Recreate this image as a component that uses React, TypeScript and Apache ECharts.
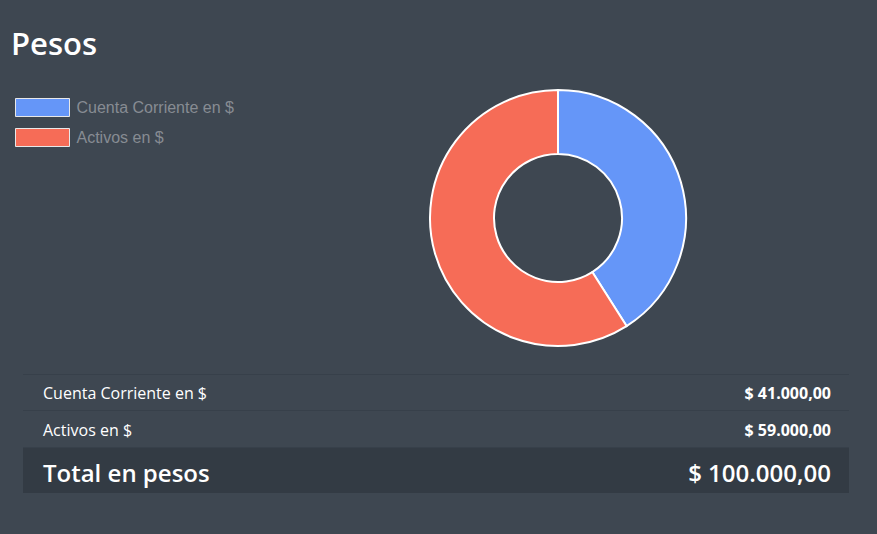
import React, { useEffect, useRef } from "react";
import * as echarts from "echarts";

const categories = ["Cuenta Corriente en $", "Activos en $"];
const values = [41000, 59000];
const colors = ["#6596f8", "#f66c57"];
const totalLabel = "Total en pesos";
const titleText = "Pesos";

function fmt(v: number): string {
  const parts = v.toFixed(2).split(".");
  const intPart = parts[0].replace(/\B(?=(\d{3})+(?!\d))/g, ".");
  return "$ " + intPart + "," + parts[1];
}

export default function App() {
  const ref = useRef<HTMLDivElement>(null);
  useEffect(() => {
    document.body.style.margin = "0";
    const chart = echarts.init(ref.current!, undefined, { renderer: "svg" });
    const total = values.reduce((a, b) => a + b, 0);
    const font = '"Open Sans", sans-serif';
    const L = 23, R = 849, tx = 43, vx = 831;
    const graphic: any[] = [
      { type: "line", shape: { x1: L, y1: 374.5, x2: R, y2: 374.5 }, style: { stroke: "#37404a", lineWidth: 1 } },
      { type: "line", shape: { x1: L, y1: 410.5, x2: R, y2: 410.5 }, style: { stroke: "#37404a", lineWidth: 1 } },
      { type: "line", shape: { x1: L, y1: 447.5, x2: R, y2: 447.5 }, style: { stroke: "#37404a", lineWidth: 1 } },
      { type: "rect", shape: { x: L, y: 448, width: R - L, height: 45 }, style: { fill: "#333b44" } },
    ];
    const rowY = [393, 430];
    categories.forEach((c, i) => {
      graphic.push({ type: "text", x: tx, y: rowY[i], style: { text: c, fill: "#ffffff", font: `16px ${font}`, verticalAlign: "middle", align: "left" } });
      graphic.push({ type: "text", x: vx, y: rowY[i], style: { text: fmt(values[i]), fill: "#ffffff", font: `bold 16px ${font}`, verticalAlign: "middle", align: "right" } });
    });
    graphic.push({ type: "text", x: tx, y: 472, style: { text: totalLabel, fill: "#ffffff", font: `600 24px ${font}`, verticalAlign: "middle", align: "left" } });
    graphic.push({ type: "text", x: vx, y: 472, style: { text: fmt(total), fill: "#ffffff", font: `600 24px ${font}`, verticalAlign: "middle", align: "right" } });

    chart.setOption({
      animation: false,
      backgroundColor: "#3e4751",
      title: {
        text: titleText,
        left: 6,
        top: 22,
        textStyle: { color: "#ffffff", fontFamily: font, fontSize: 31, fontWeight: 600 },
      },
      legend: {
        orient: "vertical",
        left: 10,
        top: 93,
        itemWidth: 54,
        itemHeight: 18,
        itemGap: 11,
        icon: "rect",
        selectedMode: false,
        itemStyle: { borderColor: "#e8e8e8", borderWidth: 1 },
        textStyle: { color: "#878c93", fontFamily: "'Liberation Sans', Arial, sans-serif", fontSize: 16, padding: [0, 0, 0, 2] },
        data: categories,
      },
      series: [
        {
          type: "pie",
          center: [558, 218],
          radius: [64, 128],
          startAngle: 90,
          clockwise: true,
          label: { show: false },
          labelLine: { show: false },
          emphasis: { disabled: true },
          itemStyle: { borderColor: "#ffffff", borderWidth: 2 },
          data: categories.map((c, i) => ({ name: c, value: values[i], itemStyle: { color: colors[i] } })),
        },
      ],
      graphic,
    });
    return () => chart.dispose();
  }, []);
  return <div ref={ref} style={{ position: "absolute", left: 0, top: 0, width: 877, height: 534 }} />;
}
